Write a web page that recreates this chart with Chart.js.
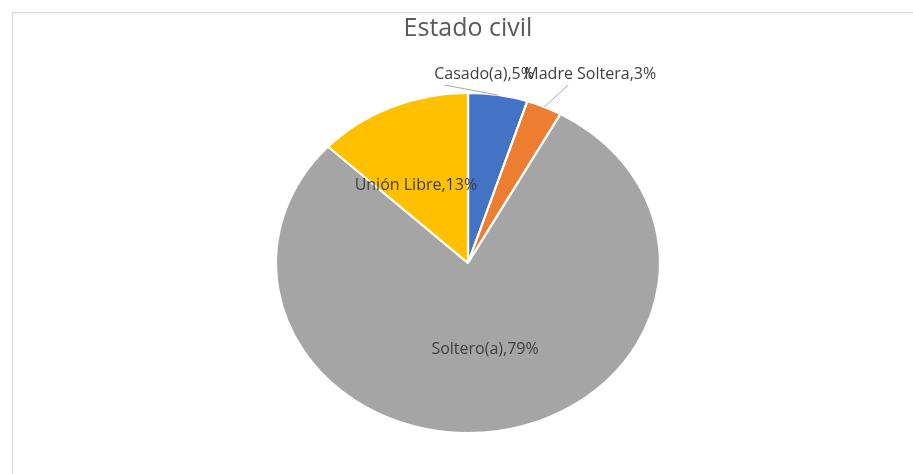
<!DOCTYPE html>
<html>
<head>
<meta charset="utf-8">
<script src="https://cdn.jsdelivr.net/npm/chart.js@4/dist/chart.umd.min.js"></script>
<style>
  body { margin: 0; background: #fff; }
  #wrap { position: relative; width: 913px; height: 474px; }
  #frame { position: absolute; left: 12px; top: 12px; right: -2px; bottom: -2px;
           border-top: 1px solid #d9d9d9; border-left: 1px solid #d9d9d9; }
  canvas { position: absolute; left: 0; top: 0; }
</style>
</head>
<body>
<div id="wrap">
  <div id="frame"></div>
  <canvas id="chart" width="913" height="474"></canvas>
</div>
<script>
const categories = ['Casado(a)', 'Madre Soltera', 'Soltero(a)', 'Unión Libre'];
const values = [5, 3, 79, 13];
const colors = ['#4472C4', '#ED7D31', '#A5A5A5', '#FFC000'];

// the reference pie is a little wider than tall
const stretchX = 192 / 170;

// label placement: inside labels sit at a fraction of the radius, outside ones
// are nudged from the slice edge and get a leader line
const labelStyle = [
  { outside: true, dx: -14, dy: -21, lx: -39, ly: 11 },
  { outside: true, dx: 46, dy: -33, lx: -22, ly: 11 },
  { outside: false, f: 0.5, dx: 2, dy: 2 },
  { outside: false, f: 0.5, dx: -14, dy: 0 }
];

const stretchPlugin = {
  id: 'stretch',
  beforeDatasetsDraw(chart) {
    const arc = chart.getDatasetMeta(0).data[0];
    const ctx = chart.ctx;
    ctx.save();
    ctx.translate(arc.x, 0);
    ctx.scale(stretchX, 1);
    ctx.translate(-arc.x, 0);
  },
  afterDatasetsDraw(chart) {
    chart.ctx.restore();
  }
};

const labelPlugin = {
  id: 'pieLabels',
  afterDraw(chart) {
    const ctx = chart.ctx;
    const total = values.reduce((a, b) => a + b, 0);
    ctx.save();
    ctx.font = '16px "Open Sans"';
    ctx.fillStyle = '#404040';
    ctx.textAlign = 'center';
    ctx.textBaseline = 'middle';
    chart.getDatasetMeta(0).data.forEach((arc, i) => {
      const mid = (arc.startAngle + arc.endAngle) / 2;
      const r = arc.outerRadius;
      const st = labelStyle[i];
      const text = categories[i] + ',' + Math.round(values[i] / total * 100) + '%';
      if (st.outside) {
        const ex = arc.x + Math.cos(mid) * r * stretchX;
        const ey = arc.y + Math.sin(mid) * r;
        const tx = ex + st.dx, ty = ey + st.dy;
        ctx.strokeStyle = '#a6a6a6';
        ctx.lineWidth = 1;
        ctx.beginPath();
        ctx.moveTo(ex, ey);
        ctx.lineTo(tx + st.lx, ty + st.ly);
        ctx.stroke();
        ctx.fillText(text, tx, ty);
      } else {
        const tx = arc.x + Math.cos(mid) * r * st.f * stretchX + st.dx;
        const ty = arc.y + Math.sin(mid) * r * st.f + st.dy;
        ctx.fillText(text, tx, ty);
      }
    });
    ctx.restore();
  }
};

new Chart(document.getElementById('chart'), {
  type: 'pie',
  data: {
    labels: categories,
    datasets: [{
      data: values,
      backgroundColor: colors,
      borderColor: '#ffffff',
      borderWidth: 2
    }]
  },
  options: {
    responsive: false,
    animation: false,
    layout: { padding: { left: 23, right: 0, top: 0, bottom: 40 } },
    plugins: {
      legend: { display: false },
      tooltip: { enabled: false },
      title: {
        display: true,
        text: 'Estado civil',
        color: '#595959',
        font: { family: '"Open Sans"', size: 25, weight: 'normal' },
        padding: { top: 14, bottom: 48 }
      }
    }
  },
  plugins: [stretchPlugin, labelPlugin]
});
</script>
</body>
</html>
